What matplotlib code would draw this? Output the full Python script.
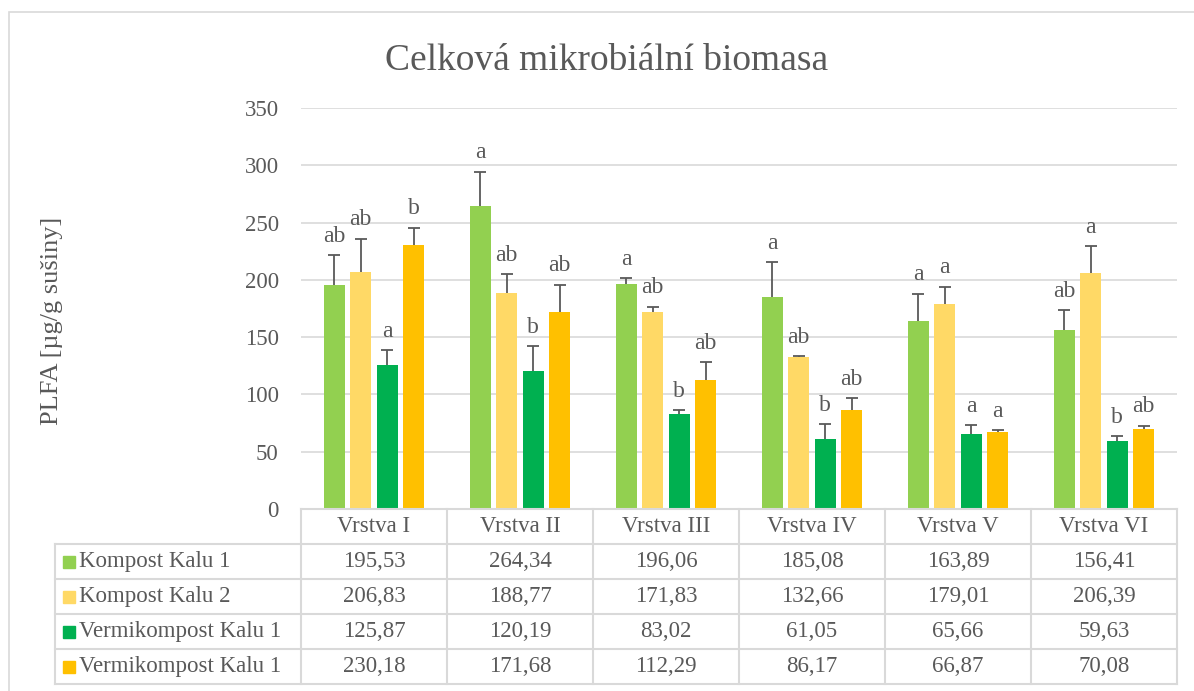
import matplotlib
matplotlib.use('Agg')
import matplotlib.pyplot as plt
import numpy as np
from matplotlib.patches import Rectangle

# data
layers = ['Vrstva I', 'Vrstva II', 'Vrstva III', 'Vrstva IV', 'Vrstva V', 'Vrstva VI']
series_names = ['Kompost Kalu 1', 'Kompost Kalu 2', 'Vermikompost Kalu 1', 'Vermikompost Kalu 1']

kompost_1 = [195.53, 264.34, 196.06, 185.08, 163.89, 156.41]
kompost_2 = [206.83, 188.77, 171.83, 132.66, 179.01, 206.39]
vermi_1 = [125.87, 120.19, 83.02, 61.05, 65.66, 59.63]
vermi_2 = [230.18, 171.68, 112.29, 86.17, 66.87, 70.08]

err_kompost_1 = [26, 30, 5.5, 30.5, 24, 17]
err_kompost_2 = [29, 16, 4.7, 1.0, 15, 23]
err_vermi_1 = [12.7, 22, 3.0, 13, 7.3, 4.0]
err_vermi_2 = [15.5, 24, 16, 10.8, 2.0, 2.7]

letters_kompost_1 = ['ab', 'a', 'a', 'a', 'a', 'ab']
letters_kompost_2 = ['ab', 'ab', 'ab', 'ab', 'a', 'a']
letters_vermi_1 = ['a', 'b', 'b', 'b', 'a', 'b']
letters_vermi_2 = ['b', 'ab', 'ab', 'ab', 'a', 'ab']

yticks = [0, 50, 100, 150, 200, 250, 300, 350]

COLORS = ['#92D050', '#FFD966', '#00B050', '#FFC000']
TEXT = '#595959'
GRID = '#D9D9D9'
FONT = 'Liberation Serif'

plt.rcParams['font.family'] = FONT

W, H = 1194, 691
fig = plt.figure(figsize=(W / 100, H / 100), dpi=100)


def fx(px):
    return px / W


def fy(py):
    return 1 - py / H


# outer frame of the chart
fig.patches.append(Rectangle((fx(9), fy(700)), fx(1200) - fx(9), fy(12) - fy(700),
                             transform=fig.transFigure, fill=False, ec=GRID, lw=1.2))

# main plot area
ax = fig.add_axes([fx(301), fy(509), fx(1177) - fx(301), fy(108) - fy(509)])
values = [kompost_1, kompost_2, vermi_1, vermi_2]
errors = [err_kompost_1, err_kompost_2, err_vermi_1, err_vermi_2]
letters = [letters_kompost_1, letters_kompost_2, letters_vermi_1, letters_vermi_2]

x = np.arange(len(layers))
pitch = 0.181
width = 0.145
for i, (vals, errs, lets, c) in enumerate(zip(values, errors, letters, COLORS)):
    xi = x + (i - 1.5) * pitch
    vals = np.array(vals)
    errs = np.array(errs)
    ax.bar(xi, vals, width=width, color=c, zorder=2)
    ax.vlines(xi, vals, vals + errs, color=TEXT, lw=1.3, zorder=3)
    ax.plot(xi, vals + errs, ls='none', marker='_', ms=8.8, mew=1.3, color=TEXT, zorder=3)
    for xx, top, lab in zip(xi, vals + errs, lets):
        ax.annotate(lab, (xx, top), xytext=(0, 6), textcoords='offset points',
                    ha='center', va='bottom', fontsize=17, color=TEXT)

ax.set_xlim(-0.5, len(layers) - 0.5)
ax.set_ylim(0, 350)
ax.set_yticks(yticks)
ax.set_xticks([])
ax.yaxis.grid(True, color=GRID, lw=1.2, zorder=0)
ax.set_axisbelow(True)
for s in ax.spines.values():
    s.set_visible(False)
ax.tick_params(axis='y', length=0, pad=16, labelsize=16.5, labelcolor=TEXT)

fig.text(fx(52), fy(321), 'PLFA [µg/g sušiny]', rotation=90, ha='center', va='center',
         fontsize=19, color=TEXT)
fig.text(fx(607), fy(70), 'Celková mikrobiální biomasa', ha='center', va='baseline',
         fontsize=27, color=TEXT)

# data table below the plot
label_w = (301 - 55) / 146.0
tx = fig.add_axes([fx(55), fy(684), fx(1177) - fx(55), fy(509) - fy(684)])
tx.set_xlim(-0.5 - label_w, len(layers) - 0.5)
tx.set_ylim(5, 0)
tx.axis('off')
left = -0.5 - label_w
right = len(layers) - 0.5
lkw = dict(color=GRID, lw=1.5, clip_on=False)
tx.plot([-0.5, right], [0, 0], **lkw)
for r in range(1, 6):
    tx.plot([left, right], [r, r], **lkw)
tx.plot([left, left], [1, 5], **lkw)
for k in range(len(layers) + 1):
    tx.plot([k - 0.5, k - 0.5], [0, 5], **lkw)

for j, name in enumerate(layers):
    tx.text(j, 0.5, name, ha='center', va='center', fontsize=16.5, color=TEXT)
for i, (name, vals, c) in enumerate(zip(series_names, values, COLORS)):
    row = i + 1.5
    tx.plot([left + 14 / 146], [row], marker='s', ms=9, color=c, ls='none')
    tx.text(left + 24 / 146, row, name, ha='left', va='center', fontsize=16.5, color=TEXT)
    for j, v in enumerate(vals):
        tx.text(j, row, f'{v:.2f}'.replace('.', ','), ha='center', va='center',
                fontsize=16.5, color=TEXT)

fig.savefig('out.png', dpi=100, facecolor='white')
